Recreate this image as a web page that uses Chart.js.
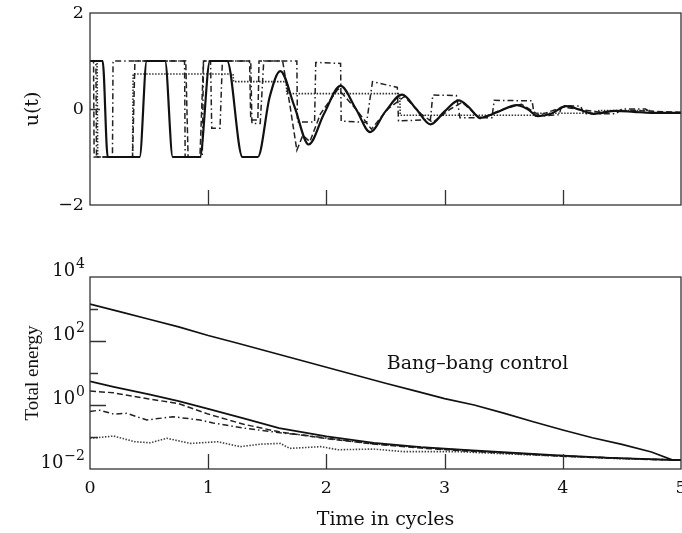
<!DOCTYPE html>
<html>
<head>
<meta charset="utf-8">
<script src="https://cdn.jsdelivr.net/npm/chart.js@4.4.0/dist/chart.umd.min.js"></script>
<style>
    body { margin: 0; background: #fff; }
    #wrap { position: relative; width: 682px; height: 533px; }
    canvas { position: absolute; left: 0; }
</style>
</head>
<body>
<div id="wrap">
    <canvas id="graficoControle" width="682" height="240" style="top:0px"></canvas>
    <canvas id="graficoEnergia" width="682" height="293" style="top:240px"></canvas>
</div>
<script>
// ---- u(t): sinal de controle ----
var tempoSolida = [0, 0.107, 0.15, 0.42, 0.48, 0.635, 0.70, 0.93, 1.015, 1.16, 1.29, 1.42, 1.52, 1.61, 1.73, 1.85, 1.98, 2.12, 2.25, 2.37, 2.5, 2.64, 2.76, 2.88, 3.0, 3.12, 3.2, 3.30, 3.45, 3.61, 3.7, 3.79, 3.9, 4.03, 4.15, 4.26, 4.45, 4.6, 4.75, 5.0];
var uSolida = [1, 1, -1, -1, 1, 1, -1, -1, 1, 1, -1, -1, 0.25, 0.79, 0.05, -0.74, -0.1, 0.48, 0.0, -0.48, -0.05, 0.30, 0.0, -0.32, -0.05, 0.18, 0.05, -0.18, -0.06, 0.08, 0.0, -0.15, -0.1, 0.06, -0.02, -0.1, -0.04, -0.06, -0.08, -0.08];

var tempoTracejada = [0, 0.03, 0.035, 0.36, 0.38, 0.81, 0.83, 0.93, 0.96, 1.35, 1.36, 1.42, 1.43, 1.63, 1.69, 1.75, 1.8, 1.86, 1.95, 2.1, 2.25, 2.38, 2.52, 2.66, 2.8, 2.9, 3.05, 3.15, 3.3, 3.5, 3.65, 3.8, 4.0, 4.3, 4.6, 5.0];
var uTracejada = [1, 1, -1, -1, 1, 1, -1, -1, 1, 1, -0.23, -0.23, 1, 1, 0.1, -0.86, -0.55, -0.68, -0.1, 0.42, 0.0, -0.42, 0.0, 0.26, -0.1, -0.28, 0.0, 0.14, -0.2, 0.0, 0.1, -0.13, 0.04, -0.06, -0.03, -0.07];

var tempoTracoPonto = [0, 0.05, 0.055, 0.19, 0.195, 0.80, 0.805, 0.95, 0.96, 1.02, 1.03, 1.1, 1.12, 1.36, 1.37, 1.44, 1.47, 1.75, 1.755, 1.9, 1.91, 2.12, 2.125, 2.34, 2.39, 2.6, 2.61, 2.88, 2.9, 3.1, 3.13, 3.4, 3.42, 3.74, 3.76, 3.97, 3.99, 4.15, 4.18, 4.45, 4.5, 4.7, 4.75, 5];
var uTracoPonto = [1, 1, -1, -1, 1, 1, -1, -1, 1, 1, -0.4, -0.4, 1, 1, -0.3, -0.3, 1, 1, -0.27, -0.27, 0.97, 0.95, -0.25, -0.28, 0.57, 0.45, -0.25, -0.22, 0.29, 0.28, -0.18, -0.18, 0.18, 0.17, -0.15, -0.12, 0.07, 0.06, -0.1, -0.1, 0.0, 0.0, -0.08, -0.08];

var tempoPontilhada = [0, 0.06, 0.065, 0.36, 0.365, 1.21, 1.215, 1.66, 1.665, 2.62, 2.625, 3.78, 3.785, 4.3, 4.305, 4.75, 4.755, 5];
var uPontilhada = [1, 1, -1, -1, 0.73, 0.73, 0.57, 0.57, 0.32, 0.32, -0.13, -0.13, -0.09, -0.09, -0.03, -0.03, -0.08, -0.08];

// ---- energia total ----
var tempoBangBang = [0, 0.25, 0.5, 0.75, 1.0, 1.25, 1.5, 1.75, 2.0, 2.25, 2.5, 2.75, 3.0, 3.25, 3.5, 3.75, 4.0, 4.25, 4.5, 4.75, 4.93, 5];
var energiaBangBang = [1413, 832, 479, 275, 148, 85, 47.9, 26.9, 15.1, 8.5, 4.8, 2.75, 1.58, 1.0, 0.56, 0.30, 0.166, 0.095, 0.059, 0.034, 0.019, 0.019];

var tempoEnergia = [0, 0.2, 0.5, 0.75, 1.0, 1.3, 1.6, 2.0, 2.4, 2.8, 3.2, 3.6, 4.0, 4.4, 4.8, 5];
var energiaSolida = [5.5, 3.7, 2.14, 1.32, 0.76, 0.38, 0.19, 0.105, 0.066, 0.048, 0.039, 0.032, 0.026, 0.0224, 0.020, 0.019];
var energiaTracejada = [2.75, 2.4, 1.55, 1.10, 0.52, 0.25, 0.145, 0.089, 0.060, 0.045, 0.036, 0.030, 0.025, 0.022, 0.0195, 0.019];

var tempoEnergiaTP = [0, 0.08, 0.2, 0.31, 0.48, 0.7, 0.93, 1.04, 1.32, 1.61, 1.8, 2.1, 2.37, 2.7, 3.0, 3.4, 3.8, 4.2, 4.6, 5];
var energiaTracoPonto = [0.63, 0.69, 0.52, 0.55, 0.34, 0.43, 0.34, 0.275, 0.186, 0.135, 0.115, 0.083, 0.063, 0.050, 0.042, 0.034, 0.028, 0.024, 0.021, 0.019];

var tempoEnergiaP = [0, 0.2, 0.38, 0.51, 0.65, 0.85, 1.08, 1.27, 1.45, 1.61, 1.69, 1.95, 2.1, 2.4, 2.65, 3.1, 3.5, 4.0, 4.5, 5];
var energiaPontilhada = [0.091, 0.107, 0.071, 0.066, 0.091, 0.063, 0.071, 0.050, 0.060, 0.063, 0.044, 0.050, 0.040, 0.042, 0.035, 0.035, 0.030, 0.025, 0.021, 0.019];

// ---- eixos ----
var marcasX = [1, 2, 3, 4];
var ticksU = [-2, 0, 2];
var rotulosU = ['\u22122', '0', '2'];
var expoentesEnergia = [-2, 0, 2, 4];
var marcasEnergiaMaiores = [100, 1];
var marcasEnergiaMenores = [1000, 10, 0.1];
var textoBangBang = 'Bang\u2013bang control';
var posBangBang = [2.51, 13.8];

var fonteSerif = '"DejaVu Serif", serif';

function pontos(xs, ys) {
    return xs.map(function (x, i) { return { x: x, y: ys[i] }; });
}

// moldura + marcas internas
var moldura = {
    id: 'moldura',
    afterDatasetsDraw: function (chart, args, opts) {
        var ctx = chart.ctx, a = chart.chartArea;
        var x = chart.scales.x, y = chart.scales.y;
        ctx.save();
        ctx.strokeStyle = '#333';
        ctx.lineWidth = 1.3;
        ctx.strokeRect(a.left, a.top, a.right - a.left, a.bottom - a.top);
        ctx.beginPath();
        marcasX.forEach(function (v) {
            var px = Math.round(x.getPixelForValue(v)) + 0.5;
            ctx.moveTo(px, a.bottom);
            ctx.lineTo(px, a.bottom - 15);
        });
        (opts.maiores || []).forEach(function (v) {
            var py = Math.round(y.getPixelForValue(v)) + 0.5;
            ctx.moveTo(a.left, py);
            ctx.lineTo(a.left + opts.tamMaior, py);
        });
        (opts.menores || []).forEach(function (v) {
            var py = Math.round(y.getPixelForValue(v)) + 0.5;
            ctx.moveTo(a.left, py);
            ctx.lineTo(a.left + 8, py);
        });
        ctx.stroke();
        ctx.restore();
    }
};

// rotulos 10^n do eixo log + texto Bang-bang
var rotulosEnergia = {
    id: 'rotulosEnergia',
    afterDraw: function (chart) {
        var ctx = chart.ctx, x = chart.scales.x, y = chart.scales.y;
        ctx.save();
        ctx.fillStyle = '#111';
        ctx.textBaseline = 'middle';
        ctx.textAlign = 'right';
        expoentesEnergia.forEach(function (e) {
            var py = y.getPixelForValue(Math.pow(10, e));
            var sup = e < 0 ? '\u2212' + (-e) : String(e);
            ctx.font = '14px ' + fonteSerif;
            var w = ctx.measureText(sup).width;
            ctx.fillText(sup, 85, py - 13);
            ctx.font = '18px ' + fonteSerif;
            ctx.fillText('10', 85 - w - 1, py - 6);
        });
        ctx.font = '19px ' + fonteSerif;
        ctx.textAlign = 'left';
        ctx.textBaseline = 'alphabetic';
        ctx.fillText(textoBangBang, x.getPixelForValue(posBangBang[0]), y.getPixelForValue(posBangBang[1]));
        ctx.restore();
    }
};

function serie(dados, largura, traco, cor, suave) {
    return {
        data: dados,
        borderColor: cor || '#111',
        borderWidth: largura,
        borderDash: traco,
        pointRadius: 0,
        fill: false,
        cubicInterpolationMode: suave ? 'monotone' : 'default',
        tension: 0
    };
}

function zerarPadding(s) {
    s.paddingLeft = 0; s.paddingRight = 0; s.paddingTop = 0; s.paddingBottom = 0;
}

var ctx1 = document.getElementById('graficoControle').getContext('2d');
new Chart(ctx1, {
    type: 'line',
    data: {
        datasets: [
            serie(pontos(tempoSolida, uSolida), 2.2, [], '#111', true),
            serie(pontos(tempoTracejada, uTracejada), 1.5, [6, 3], '#222'),
            serie(pontos(tempoTracoPonto, uTracoPonto), 1.5, [6, 3, 1.5, 3], '#222'),
            serie(pontos(tempoPontilhada, uPontilhada), 1.6, [1.5, 1.5], '#333')
        ]
    },
    plugins: [moldura],
    options: {
        responsive: false,
        animation: false,
        layout: { padding: { left: 0, right: 1, top: 13, bottom: 35 } },
        plugins: {
            legend: { display: false },
            tooltip: { enabled: false },
            moldura: { maiores: [0], tamMaior: 10 }
        },
        scales: {
            x: {
                type: 'linear', min: 0, max: 5,
                grid: { display: false, drawTicks: false },
                border: { display: false },
                ticks: { display: false },
                afterFit: function (s) { s.height = 0; zerarPadding(s); }
            },
            y: {
                min: -2, max: 2,
                grid: { display: false, drawTicks: false },
                border: { display: false },
                afterBuildTicks: function (s) { s.ticks = ticksU.map(function (v) { return { value: v }; }); },
                ticks: {
                    padding: 6,
                    color: '#111',
                    font: { family: fonteSerif, size: 17.5 },
                    callback: function (v) { return rotulosU[ticksU.indexOf(v)]; }
                },
                title: {
                    display: true, text: 'u(t)', color: '#111',
                    font: { family: fonteSerif, size: 19 },
                    padding: { top: 22, bottom: 0 }
                },
                afterFit: function (s) { s.width = 90; zerarPadding(s); }
            }
        }
    }
});

var ctx2 = document.getElementById('graficoEnergia').getContext('2d');
new Chart(ctx2, {
    type: 'line',
    data: {
        datasets: [
            serie(pontos(tempoBangBang, energiaBangBang), 1.7, [], '#111'),
            serie(pontos(tempoEnergia, energiaSolida), 1.8, [], '#111'),
            serie(pontos(tempoEnergia, energiaTracejada), 1.5, [6, 3], '#222'),
            serie(pontos(tempoEnergiaTP, energiaTracoPonto), 1.5, [6, 3, 1.5, 3], '#222'),
            serie(pontos(tempoEnergiaP, energiaPontilhada), 1.6, [1.5, 1.5], '#444')
        ]
    },
    plugins: [moldura, rotulosEnergia],
    options: {
        responsive: false,
        animation: false,
        layout: { padding: { left: 0, right: 1, top: 37, bottom: 0 } },
        plugins: {
            legend: { display: false },
            tooltip: { enabled: false },
            moldura: { maiores: marcasEnergiaMaiores, menores: marcasEnergiaMenores, tamMaior: 16 }
        },
        scales: {
            x: {
                type: 'linear', min: 0, max: 5,
                grid: { display: false, drawTicks: false },
                border: { display: false },
                ticks: {
                    stepSize: 1, padding: 9, color: '#111',
                    font: { family: fonteSerif, size: 17.5 },
                    maxRotation: 0
                },
                title: {
                    display: true, text: 'Time in cycles', color: '#111',
                    font: { family: fonteSerif, size: 19 },
                    padding: { top: 0, bottom: 2 }
                },
                afterFit: function (s) { s.height = 64; zerarPadding(s); }
            },
            y: {
                type: 'logarithmic', min: 0.01, max: 10000,
                grid: { display: false, drawTicks: false },
                border: { display: false },
                ticks: { display: false },
                title: {
                    display: true, text: 'Total energy', color: '#111',
                    font: { family: '"Liberation Serif", serif', size: 19 },
                    padding: { top: 22, bottom: 0 }
                },
                afterFit: function (s) { s.width = 90; zerarPadding(s); }
            }
        }
    }
});
</script>
</body>
</html>
